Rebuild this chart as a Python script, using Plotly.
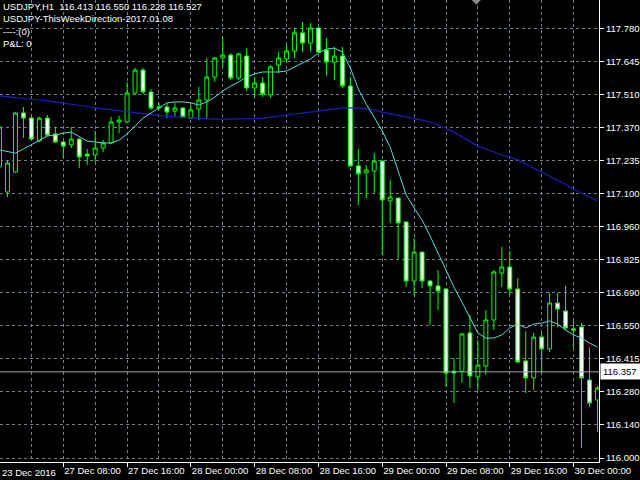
import numpy as np
import plotly.graph_objects as go

# USDJPY H1 bars, 27 Dec - 30 Dec 2016
bars = list(range(76))

opens = [117.206, 117.102, 117.185, 117.429, 117.408, 117.313, 117.408, 117.342, 117.309, 117.297,
         117.321, 117.259, 117.255, 117.284, 117.305, 117.392, 117.392, 117.512, 117.607, 117.516,
         117.450, 117.454, 117.437, 117.450, 117.408, 117.446, 117.483, 117.578, 117.657, 117.669,
         117.574, 117.665, 117.533, 117.553, 117.504, 117.628, 117.653, 117.686, 117.761, 117.719,
         117.781, 117.690, 117.640, 117.665, 117.541, 117.210, 117.181, 117.189, 117.230, 117.065,
         117.077, 116.978, 116.733, 116.853, 116.733, 116.713, 116.700, 116.360, 116.360, 116.518,
         116.336, 116.381, 116.572, 116.766, 116.791, 116.700, 116.402, 116.332, 116.501, 116.452,
         116.642, 116.609, 116.535, 116.543, 116.323, 116.240]
highs = [117.379, 117.235, 117.433, 117.454, 117.417, 117.413, 117.421, 117.371, 117.313, 117.371,
         117.326, 117.280, 117.355, 117.317, 117.413, 117.417, 117.558, 117.616, 117.616, 117.529,
         117.471, 117.471, 117.471, 117.454, 117.462, 117.537, 117.657, 117.661, 117.740, 117.678,
         117.678, 117.698, 117.578, 117.578, 117.628, 117.682, 117.711, 117.781, 117.806, 117.802,
         117.785, 117.740, 117.703, 117.703, 117.578, 117.280, 117.214, 117.263, 117.235, 117.152,
         117.077, 116.978, 116.911, 116.853, 116.737, 116.779, 116.704, 116.414, 116.518, 116.593,
         116.489, 116.613, 116.779, 116.874, 116.858, 116.746, 116.526, 116.518, 116.518, 116.684,
         116.684, 116.713, 116.572, 116.559, 116.456, 116.298]
lows = [117.193, 117.081, 117.181, 117.326, 117.317, 117.309, 117.334, 117.305, 117.243, 117.284,
        117.201, 117.214, 117.226, 117.268, 117.301, 117.346, 117.388, 117.504, 117.508, 117.442,
        117.442, 117.408, 117.413, 117.408, 117.404, 117.400, 117.408, 117.558, 117.620, 117.566,
        117.566, 117.520, 117.495, 117.495, 117.491, 117.595, 117.640, 117.657, 117.682, 117.682,
        117.678, 117.582, 117.566, 117.533, 117.206, 117.048, 117.077, 117.098, 116.841, 116.974,
        116.824, 116.708, 116.675, 116.704, 116.551, 116.613, 116.294, 116.228, 116.311, 116.290,
        116.282, 116.344, 116.530, 116.708, 116.675, 116.394, 116.269, 116.282, 116.352, 116.439,
        116.543, 116.530, 116.456, 116.042, 116.211, 116.108]
closes = [117.371, 117.222, 117.429, 117.408, 117.321, 117.408, 117.338, 117.309, 117.292, 117.321,
          117.247, 117.251, 117.284, 117.305, 117.392, 117.400, 117.512, 117.607, 117.516, 117.450,
          117.454, 117.433, 117.450, 117.413, 117.442, 117.483, 117.578, 117.657, 117.669, 117.574,
          117.674, 117.533, 117.553, 117.508, 117.620, 117.657, 117.686, 117.761, 117.719, 117.781,
          117.682, 117.640, 117.665, 117.541, 117.210, 117.177, 117.193, 117.230, 117.069, 117.081,
          116.974, 116.733, 116.853, 116.733, 116.713, 116.692, 116.352, 116.352, 116.514, 116.340,
          116.385, 116.572, 116.771, 116.791, 116.700, 116.398, 116.332, 116.501, 116.452, 116.642,
          116.617, 116.539, 116.530, 116.332, 116.228, 116.290]

# moving averages
ma_fast = [117.276, 117.268, 117.263, 117.280, 117.297, 117.317, 117.334, 117.338, 117.346, 117.350,
           117.330, 117.313, 117.309, 117.305, 117.305, 117.317, 117.342, 117.375, 117.408, 117.429,
           117.450, 117.471, 117.475, 117.475, 117.471, 117.462, 117.475, 117.495, 117.520, 117.541,
           117.558, 117.578, 117.591, 117.599, 117.599, 117.599, 117.603, 117.620, 117.636, 117.653,
           117.678, 117.694, 117.698, 117.682, 117.616, 117.529, 117.466, 117.413, 117.355, 117.288,
           117.193, 117.090, 117.036, 116.986, 116.920, 116.849, 116.783, 116.708, 116.646, 116.584,
           116.518, 116.497, 116.497, 116.510, 116.539, 116.555, 116.539, 116.555, 116.559, 116.568,
           116.555, 116.530, 116.510, 116.497, 116.476, 116.460]
ma_slow = [117.500, 117.497, 117.495, 117.491, 117.487, 117.483, 117.479, 117.475, 117.471, 117.466,
           117.462, 117.456, 117.450, 117.446, 117.442, 117.437, 117.433, 117.429, 117.425, 117.421,
           117.417, 117.415, 117.413, 117.411, 117.408, 117.406, 117.404, 117.404, 117.404, 117.404,
           117.404, 117.404, 117.406, 117.408, 117.413, 117.417, 117.421, 117.425, 117.429, 117.433,
           117.437, 117.444, 117.448, 117.450, 117.450, 117.450, 117.446, 117.442, 117.433, 117.427,
           117.421, 117.415, 117.408, 117.400, 117.392, 117.379, 117.367, 117.350, 117.330, 117.309,
           117.292, 117.280, 117.268, 117.255, 117.247, 117.235, 117.218, 117.201, 117.185, 117.168,
           117.152, 117.133, 117.114, 117.098, 117.081, 117.065]

x_ticks = [8, 16, 24, 32, 40, 48, 56, 64, 72]
x_labels = ["27 Dec 08:00", "27 Dec 16:00", "28 Dec 00:00", "28 Dec 08:00", "28 Dec 16:00",
            "29 Dec 00:00", "29 Dec 08:00", "29 Dec 16:00", "30 Dec 00:00"]
y_labels = ["116.000", "116.140", "116.280", "116.415", "116.550", "116.690", "116.825",
            "116.960", "117.100", "117.235", "117.370", "117.510", "117.645", "117.780"]
bid = 116.357

header = ["USDJPY,H1\u00a0\u00a0116.413 116.550 116.228 116.527",
          "USDJPY-ThisWeekDirection-2017.01.08",
          "----:(0)",
          "P&L: 0"]

grid = '#6f7f8f'
fnt = 'Liberation Sans'
fs = 9.5

fig = go.Figure()
fig.add_trace(go.Candlestick(
    x=bars, open=opens, high=highs, low=lows, close=closes,
    increasing=dict(line=dict(color='#00ff00', width=1), fillcolor='black'),
    decreasing=dict(line=dict(color='#00ff00', width=1), fillcolor='#f2fff2'),
    whiskerwidth=0, hoverinfo='skip'))
fig.add_trace(go.Scatter(x=bars, y=ma_slow, mode='lines',
                         line=dict(color='#1c1cc4', width=1.2), hoverinfo='skip'))
fig.add_trace(go.Scatter(x=bars, y=ma_fast, mode='lines',
                         line=dict(color='#52dcdc', width=1), hoverinfo='skip'))

fig.update_layout(
    width=640, height=480,
    margin=dict(l=0, r=39, t=0, b=18),
    paper_bgcolor='black', plot_bgcolor='black',
    showlegend=False,
    font=dict(family=fnt, size=fs, color='white'),
    xaxis=dict(range=[0.06, 75.19], tickmode='array', tickvals=x_ticks, ticktext=x_labels,
               tickangle=0, ticks='outside', ticklen=4, tickcolor='white',
               ticklabelposition='outside right',
               showline=True, linecolor='white', linewidth=1,
               showgrid=True, gridcolor=grid, griddash='3px,3px', gridwidth=1,
               minor=dict(tickvals=[4, 12, 20, 28, 36, 44, 52, 60, 68], showgrid=True,
                          gridcolor=grid, griddash='3px,3px', ticks=''),
               rangeslider=dict(visible=False), zeroline=False, fixedrange=True),
    yaxis=dict(side='right', range=[115.9836, 117.8972], tickmode='array',
               tickvals=list(np.linspace(116.0, 117.78, len(y_labels))), ticktext=y_labels,
               ticks='outside', ticklen=4, tickcolor='white',
               showline=True, linecolor='white', linewidth=1,
               showgrid=True, gridcolor=grid, griddash='3px,3px', gridwidth=1,
               zeroline=False, fixedrange=True),
)

# bid line and its price box
fig.add_shape(type='line', xref='paper', x0=0, x1=1, yref='y', y0=bid, y1=bid,
              line=dict(color='#a8a8a8', width=1))
fig.add_annotation(xref='paper', x=1, xanchor='left', xshift=1, yref='y', y=bid,
                   text=f"{bid:.3f}", showarrow=False, bgcolor='white', width=36,
                   align='left', borderpad=2, font=dict(family=fnt, size=fs, color='black'))

# chart shift marker
fig.add_shape(type='path', xref='x', yref='paper',
              path='M 59.3 1 L 60.3 1 L 59.8 0.991 Z',
              fillcolor='#8a8a8a', line=dict(color='#8a8a8a', width=1))

# first visible date
fig.add_annotation(xref='paper', x=0, xanchor='left', yref='paper', y=0, yanchor='top',
                   yshift=-3, text="23 Dec 2016", showarrow=False,
                   font=dict(family=fnt, size=fs, color='white'))

# header lines
for k, line in enumerate(header):
    fig.add_annotation(xref='paper', x=0, xanchor='left', xshift=1,
                       yref='paper', y=1 - (6.5 + 12.4 * k) / 462, yanchor='middle',
                       text=line, showarrow=False,
                       font=dict(family=fnt, size=fs, color='white'))

fig.write_html("out.html", config={'displayModeBar': False},
               post_script="document.body.style.margin='0px';")
